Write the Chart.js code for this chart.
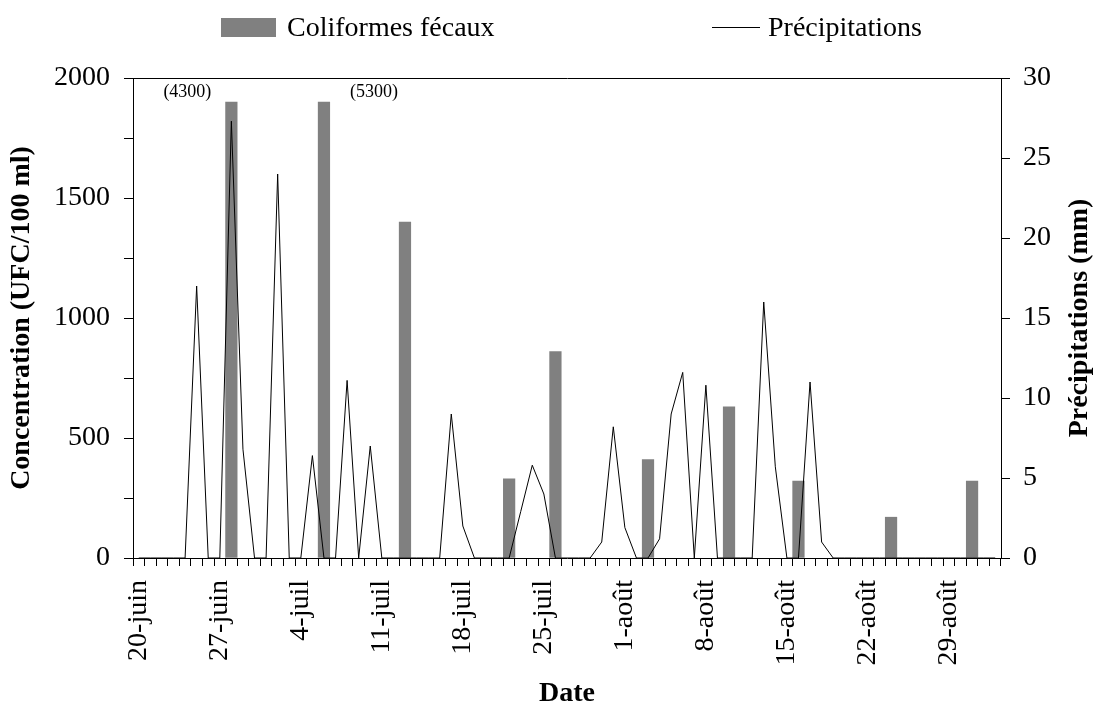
<!DOCTYPE html>
<html lang="fr">
<head>
<meta charset="utf-8">
<title>Coliformes fécaux et précipitations</title>
<script src="https://cdn.jsdelivr.net/npm/chart.js@4.4.0/dist/chart.umd.min.js"></script>
<style>
  html, body { margin: 0; padding: 0; background: #fff; }
  #wrap { position: relative; width: 1099px; height: 711px; }
  .leg-text { position: absolute; top: 10px; font: 28px "Liberation Serif", "Times New Roman", serif; line-height: 34px; color: #000; white-space: nowrap; }
  .leg-box { position: absolute; left: 221px; top: 18px; width: 55px; height: 19px; background: #808080; }
  .leg-line { position: absolute; left: 712px; top: 27px; width: 48px; height: 1px; background: #000; }
</style>
</head>
<body>
<div id="wrap">
  <canvas id="chart"></canvas>
  <div class="leg-box"></div>
  <div class="leg-text" style="left:287px">Coliformes fécaux</div>
  <div class="leg-line"></div>
  <div class="leg-text" style="left:768px">Précipitations</div>
</div>
<script>
// one category per day, 20 June to 2 September
const months = [["juin", 20, 30], ["juil", 1, 31], ["août", 1, 31], ["sept", 1, 2]];
const days = [];
months.forEach(([m, from, to]) => {
  for (let d = from; d <= to; d++) days.push(d + "-" + m);
});
const labelEvery = 7; // a date label every week

// fecal coliforms (UFC/100 ml), sampling days only
const coliformes = [
  null, null, null, null, null,
  null, null, null, 4300, null,
  null, null, null, null, null,
  null, 5300, null, null, null,
  null, null, null, 1400, null,
  null, null, null, null, null,
  null, null, 330, null, null,
  null, 860, null, null, null,
  null, null, null, null, 410,
  null, null, null, null, null,
  null, 630, null, null, null,
  null, null, 320, null, null,
  null, null, null, null, null,
  170, null, null, null, null,
  null, null, 320, null, null,
];

// daily rainfall (mm)
const precipitations = [
  0, 0, 0, 0, 0,
  17.0, 0, 0, 27.3, 6.8,
  0, 0, 24.0, 0, 0,
  6.4, 0, 0, 11.1, 0,
  7.0, 0, 0, 0, 0,
  0, 0, 9.0, 2.0, 0,
  0, 0, 0, 2.9, 5.8,
  4.0, 0, 0, 0, 0,
  1.0, 8.2, 1.9, 0, 0,
  1.2, 9.0, 11.6, 0, 10.8,
  0, 0, 0, 0, 16.0,
  5.7, 0, 0, 11.0, 1.0,
  0, 0, 0, 0, 0,
  0, 0, 0, 0, 0,
  0, 0, 0, 0, 0,
];

// bars above this are cut and their real value written in brackets
const AXIS_BREAK = 1900;
const coliformesDrawn = coliformes.map((v) => (v === null ? null : Math.min(v, AXIS_BREAK)));

const FONT = '"Liberation Serif", "Times New Roman", serif';

// writes "(4300)" etc. next to the cut bars
const breakLabels = {
  id: "breakLabels",
  afterDatasetsDraw(chart, args, opts) {
    const meta = chart.getDatasetMeta(0);
    const ctx = chart.ctx;
    ctx.save();
    ctx.font = "18px " + FONT;
    ctx.fillStyle = "#000";
    ctx.textAlign = "center";
    ctx.textBaseline = "alphabetic";
    coliformes.forEach((v, i) => {
      if (v === null || v <= AXIS_BREAK) return;
      const bar = meta.data[i];
      ctx.fillText("(" + v + ")", bar.x + (opts.shift[i] || 0), bar.y - 5);
    });
    ctx.restore();
  },
};

// right axis title, reading bottom to top
const rightTitle = {
  id: "rightTitle",
  afterDraw(chart, args, opts) {
    const { ctx, chartArea } = chart;
    ctx.save();
    ctx.translate(chart.scales.y1.right - opts.offset, (chartArea.top + chartArea.bottom) / 2);
    ctx.rotate(-Math.PI / 2);
    ctx.font = "bold 28px " + FONT;
    ctx.fillStyle = "#000";
    ctx.textAlign = "center";
    ctx.textBaseline = "middle";
    ctx.fillText(opts.text, 0, 0);
    ctx.restore();
  },
};

const axisGrid = { display: true, drawOnChartArea: false, drawTicks: true, color: "#000", lineWidth: 1 };
const axisBorder = { display: true, color: "#000", width: 1 };

new Chart(document.getElementById("chart").getContext("2d"), {
  type: "bar",
  data: {
    labels: days,
    datasets: [
      {
        type: "bar",
        label: "Coliformes fécaux",
        data: coliformesDrawn,
        backgroundColor: "#808080",
        borderWidth: 0,
        barPercentage: 1.0,
        categoryPercentage: 1.0,
        yAxisID: "y",
        order: 2,
      },
      {
        type: "line",
        label: "Précipitations",
        data: precipitations,
        borderColor: "#000",
        borderWidth: 1,
        pointRadius: 0,
        tension: 0,
        fill: false,
        yAxisID: "y1",
        order: 1,
      },
    ],
  },
  options: {
    responsive: true,
    maintainAspectRatio: false,
    animation: false,
    layout: { padding: { top: 78, left: 0, right: 0, bottom: 0 } },
    plugins: {
      legend: { display: false },
      tooltip: { enabled: false },
      breakLabels: { shift: { 8: -44, 16: 50 } },
      rightTitle: { text: "Précipitations (mm)", offset: 19 },
    },
    scales: {
      x: {
        position: "bottom",
        offset: true,
        grid: { ...axisGrid, offset: true, tickLength: 8 },
        border: axisBorder,
        ticks: {
          autoSkip: false,
          minRotation: 90,
          maxRotation: 90,
          padding: 14,
          color: "#000",
          font: { family: FONT, size: 28 },
          callback: function (value, index) {
            return index % labelEvery === 0 ? this.getLabelForValue(value) : "";
          },
        },
        title: {
          display: true,
          text: "Date",
          color: "#000",
          font: { family: FONT, size: 28, weight: "bold" },
          padding: 0,
        },
        afterFit: (scale) => { scale.height = 153; },
      },
      xTop: {
        type: "category",
        position: "top",
        grid: { display: false },
        ticks: { display: false },
        border: axisBorder,
        afterFit: (scale) => { scale.height = 0; },
      },
      y: {
        position: "left",
        min: 0,
        max: 2000,
        grid: { ...axisGrid, tickLength: 9 },
        border: axisBorder,
        ticks: {
          stepSize: 250,
          padding: 14,
          color: "#000",
          font: { family: FONT, size: 28 },
          callback: (v) => (v % 500 === 0 ? v : ""),
        },
        title: {
          display: true,
          text: "Concentration (UFC/100 ml)",
          color: "#000",
          font: { family: FONT, size: 28, weight: "bold" },
          padding: 5,
        },
        afterFit: (scale) => { scale.width = 133; },
      },
      y1: {
        position: "right",
        min: 0,
        max: 30,
        grid: { ...axisGrid, tickLength: 9 },
        border: axisBorder,
        ticks: {
          stepSize: 5,
          padding: 13,
          color: "#000",
          font: { family: FONT, size: 28 },
        },
        afterFit: (scale) => { scale.width = 98; },
      },
    },
  },
  plugins: [breakLabels, rightTitle],
});
</script>
</body>
</html>
